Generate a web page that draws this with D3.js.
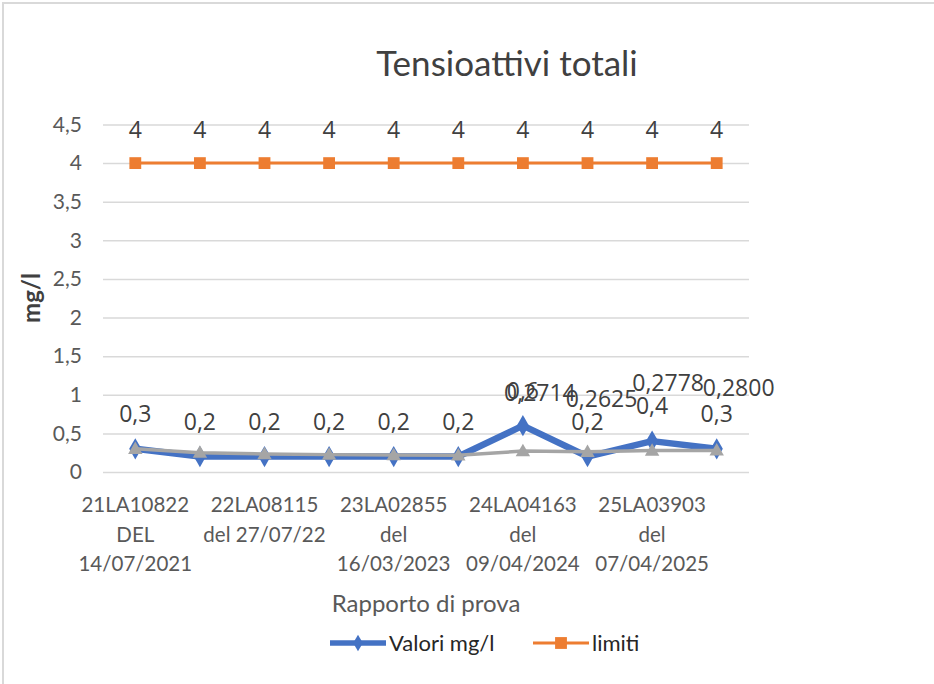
<!DOCTYPE html>
<html>
<head>
<meta charset="utf-8">
<script src="https://cdn.jsdelivr.net/npm/d3@7"></script>
<style>
    body { margin: 0; background: #fff; }
    text { font-family: Lato, "Open Sans", sans-serif; fill: #595959; }
    .lbl { font-family: "Open Sans", sans-serif; fill: #404040; }
</style>
</head>
<body>
<script>

// SVG size
const w = 934;
const h = 684;

// plot area
const plotL = 103, plotR = 749, plotT = 124.5, plotB = 472;

// Data
const categories = [
    "21LA10822 DEL 14/07/2021", null,
    "22LA08115 del 27/07/22", null,
    "23LA02855 del 16/03/2023", null,
    "24LA04163 del 09/04/2024", null,
    "25LA03903 del 07/04/2025", null
];
const tickLines = [
    ["21LA10822", "DEL", "14/07/2021"], null,
    ["22LA08115", "del 27/07/22"], null,
    ["23LA02855", "del", "16/03/2023"], null,
    ["24LA04163", "del", "09/04/2024"], null,
    ["25LA03903", "del", "07/04/2025"], null
];
const valori = [0.3, 0.2, 0.2, 0.2, 0.2, 0.2, 0.6, 0.2, 0.4, 0.3];
const limiti = [4, 4, 4, 4, 4, 4, 4, 4, 4, 4];
const media = [0.3, 0.25, 0.2333, 0.225, 0.22, 0.2167, 0.2714, 0.2625, 0.2778, 0.28];
const yTicks = [0, 0.5, 1, 1.5, 2, 2.5, 3, 3.5, 4, 4.5];

// where the grey labels were dragged to (dx, dy from the point)
const mediaLabelPos = [null, null, null, null, null, null,
    [17, -58], [14, -53], [16, -68], [22, -62]];

const comma = d => String(d).replace(".", ",");

// Create SVG
const svg = d3.select("body")
    .append("svg")
    .attr("width", w)
    .attr("height", h);

// chart frame
svg.append("rect")
    .attr("x", 3)
    .attr("y", 3)
    .attr("width", w + 10)
    .attr("height", h + 10)
    .attr("fill", "#fff")
    .attr("stroke", "#d9d9d9")
    .attr("stroke-width", 2);

// Scales
const xScale = d3.scaleBand()
    .domain(d3.range(categories.length))
    .range([plotL, plotR]);
const xc = i => xScale(i) + xScale.bandwidth() / 2;

const yScale = d3.scaleLinear()
    .domain([0, 4.5])
    .range([plotB, plotT]);

// gridlines
svg.append("g")
    .attr("transform", `translate(${plotL}, 0)`)
    .call(d3.axisLeft(yScale).tickValues(yTicks).tickSize(-(plotR - plotL)).tickFormat(""))
    .call(g => g.select(".domain").remove())
    .call(g => g.selectAll("line").attr("stroke", "#d9d9d9").attr("stroke-width", 1.5));

// y axis labels
svg.append("g")
    .attr("transform", `translate(${plotL}, 0)`)
    .call(d3.axisLeft(yScale).tickValues(yTicks).tickSize(0).tickPadding(21).tickFormat(comma))
    .call(g => g.select(".domain").remove())
    .call(g => g.selectAll("text").style("font-size", "21px").attr("fill", "#595959"));

// x axis labels (only every other one shows)
const xLab = svg.append("g")
    .selectAll("text")
    .data(tickLines.map((t, i) => ({ t, i })).filter(d => d.t))
    .join("text")
    .attr("x", d => xc(d.i))
    .attr("y", 512)
    .attr("text-anchor", "middle")
    .style("font-size", "20.5px");
xLab.selectAll("tspan")
    .data(d => d.t.map(s => ({ s, x: xc(d.i) })))
    .join("tspan")
    .attr("x", d => d.x)
    .attr("dy", (d, j) => j ? 29.5 : 0)
    .text(d => d.s);

// lines
const line = arr => d3.line()
    .x((d, i) => xc(i))
    .y(d => yScale(d))(arr);

svg.append("path")
    .attr("d", line(valori))
    .attr("fill", "none")
    .attr("stroke", "#4472c4")
    .attr("stroke-width", 6.5)
    .attr("stroke-linejoin", "round");

svg.selectAll(".m-val")
    .data(valori)
    .join("path")
    .attr("transform", (d, i) => `translate(${xc(i)},${yScale(d)})`)
    .attr("d", d3.symbol(d3.symbolDiamond, 130))
    .attr("fill", "#4472c4");

svg.append("path")
    .attr("d", line(limiti))
    .attr("fill", "none")
    .attr("stroke", "#ed7d31")
    .attr("stroke-width", 3);

svg.selectAll(".m-lim")
    .data(limiti)
    .join("path")
    .attr("transform", (d, i) => `translate(${xc(i)},${yScale(d)})`)
    .attr("d", d3.symbol(d3.symbolSquare, 140))
    .attr("fill", "#ed7d31");

svg.append("path")
    .attr("d", line(media))
    .attr("fill", "none")
    .attr("stroke", "#a5a5a5")
    .attr("stroke-width", 3.5);

svg.selectAll(".m-med")
    .data(media)
    .join("path")
    .attr("transform", (d, i) => `translate(${xc(i)},${yScale(d) + 1})`)
    .attr("d", d3.symbol(d3.symbolTriangle, 90))
    .attr("fill", "#a5a5a5");

// data labels
svg.selectAll(".lbl-lim")
    .data(limiti)
    .join("text")
    .attr("class", "lbl")
    .attr("x", (d, i) => xc(i))
    .attr("y", d => yScale(d) - 25)
    .attr("text-anchor", "middle")
    .style("font-size", "23px")
    .text(d => d);

svg.selectAll(".lbl-val")
    .data(valori)
    .join("text")
    .attr("class", "lbl")
    .attr("x", (d, i) => xc(i))
    .attr("y", d => yScale(d) - 27)
    .attr("text-anchor", "middle")
    .style("font-size", "23px")
    .text(d => comma(d3.format(".1f")(d)));

svg.selectAll(".lbl-med")
    .data(media.map((v, i) => ({ v, i, p: mediaLabelPos[i] })).filter(d => d.p))
    .join("text")
    .attr("class", "lbl")
    .attr("x", d => xc(d.i) + d.p[0])
    .attr("y", d => yScale(d.v) + d.p[1] + 8)
    .attr("text-anchor", "middle")
    .style("font-size", "23px")
    .text(d => comma(d3.format(".4f")(d.v)));

// Title
svg.append("text")
    .attr("x", 507)
    .attr("y", 76)
    .attr("text-anchor", "middle")
    .style("font-size", "35px")
    .style("fill", "#404040")
    .text("Tensioattivi totali");

// axis titles
svg.append("text")
    .attr("x", 426)
    .attr("y", 612)
    .attr("text-anchor", "middle")
    .style("font-size", "24px")
    .text("Rapporto di prova");

svg.append("text")
    .attr("transform", "rotate(-90)")
    .attr("x", -298)
    .attr("y", 40)
    .attr("text-anchor", "middle")
    .style("font-size", "24px")
    .style("font-weight", "bold")
    .style("fill", "#404040")
    .text("mg/l");

// Legend
const legend = [
    { name: "Valori mg/l", color: "#4472c4", x: 330, sym: d3.symbolDiamond, sw: 5.5, size: 80 },
    { name: "limiti", color: "#ed7d31", x: 533, sym: d3.symbolSquare, sw: 3, size: 140 }
];
const lg = svg.append("g")
    .selectAll("g")
    .data(legend)
    .join("g")
    .attr("transform", d => `translate(${d.x}, 643)`);
lg.append("line")
    .attr("x1", 0)
    .attr("x2", 56)
    .attr("stroke", d => d.color)
    .attr("stroke-width", d => d.sw);
lg.append("path")
    .attr("transform", "translate(28,0)")
    .attr("d", d => d3.symbol(d.sym, d.size)())
    .attr("fill", d => d.color);
lg.append("text")
    .attr("x", 59)
    .attr("y", 8)
    .style("font-size", "22px")
    .style("fill", "#262626")
    .text(d => d.name);

</script>
</body>
</html>
